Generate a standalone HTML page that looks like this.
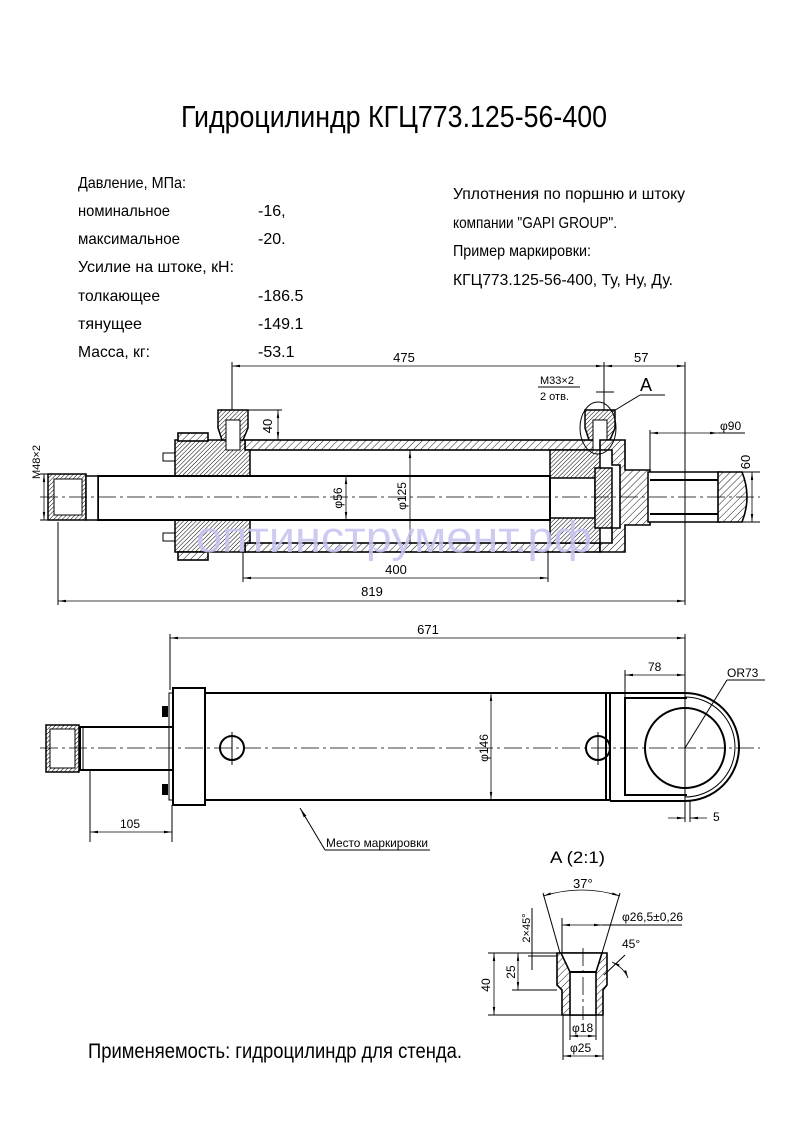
<!DOCTYPE html>
<html><head><meta charset="utf-8"><style>
html,body{margin:0;padding:0;background:#fff}
svg{display:block}
text{font-family:"Liberation Sans Narrow","Liberation Sans","DejaVu Sans",sans-serif;fill:#000}
.l{stroke:#000;fill:none;stroke-width:1}
.t{stroke:#000;fill:none;stroke-width:2}
.c{stroke:#000;fill:none;stroke-width:0.8;stroke-dasharray:18 4 3 4}
.h{fill:url(#hatch);stroke:#000;stroke-width:1.6}
.d{stroke:#000;stroke-width:0.8;fill:none;marker-start:url(#a1);marker-end:url(#a2)}
</style></head><body>
<svg width="793" height="1123" viewBox="0 0 793 1123" xmlns="http://www.w3.org/2000/svg">
<defs>
<pattern id="hatch" width="5" height="5" patternUnits="userSpaceOnUse" patternTransform="rotate(45)"><rect width="5" height="5" fill="#fff"/><line x1="0" y1="0" x2="0" y2="5" stroke="#000" stroke-width="0.9"/></pattern>
<pattern id="hatch2" width="3" height="3" patternUnits="userSpaceOnUse" patternTransform="rotate(45)"><rect width="3" height="3" fill="#fff"/><line x1="0" y1="0" x2="0" y2="3" stroke="#000" stroke-width="1"/></pattern>
<marker id="a1" markerWidth="10" markerHeight="6" refX="0" refY="3" orient="auto"><path d="M0,3 L10,1.5 L10,4.5z" fill="#000"/></marker>
<marker id="a2" markerWidth="10" markerHeight="6" refX="10" refY="3" orient="auto"><path d="M10,3 L0,1.5 L0,4.5z" fill="#000"/></marker>
</defs>

<!-- Title -->
<text x="181" y="127" font-size="31" textLength="426" lengthAdjust="spacingAndGlyphs">Гидроцилиндр КГЦ773.125-56-400</text>

<g font-size="16">
<text x="78" y="188" textLength="108" lengthAdjust="spacingAndGlyphs">Давление, МПа:</text>
<text x="78" y="216" textLength="92" lengthAdjust="spacingAndGlyphs">номинальное</text>
<text x="78" y="244" textLength="102" lengthAdjust="spacingAndGlyphs">максимальное</text>
<text x="78" y="272" textLength="156" lengthAdjust="spacingAndGlyphs">Усилие на штоке, кН:</text>
<text x="78" y="301" textLength="82" lengthAdjust="spacingAndGlyphs">толкающее</text>
<text x="78" y="329" textLength="64" lengthAdjust="spacingAndGlyphs">тянущее</text>
<text x="78" y="357" textLength="72" lengthAdjust="spacingAndGlyphs">Масса, кг:</text>
<text x="258" y="216">-16,</text>
<text x="258" y="244">-20.</text>
<text x="258" y="301">-186.5</text>
<text x="258" y="329">-149.1</text>
<text x="258" y="357">-53.1</text>
<text x="453" y="199" textLength="232" lengthAdjust="spacingAndGlyphs">Уплотнения по поршню и штоку</text>
<text x="453" y="228" textLength="164" lengthAdjust="spacingAndGlyphs">компании "GAPI GROUP".</text>
<text x="453" y="256" textLength="138" lengthAdjust="spacingAndGlyphs">Пример маркировки:</text>
<text x="453" y="285" textLength="220" lengthAdjust="spacingAndGlyphs">КГЦ773.125-56-400, Ту, Ну, Ду.</text>
</g>

<!-- ===== Section view ===== -->
<g>
<!-- tube walls -->
<rect x="245" y="440" width="355" height="10" class="h"/>
<rect x="245" y="543" width="355" height="9" class="h"/>
<!-- gland -->
<path d="M175,440 L245,440 L245,450 L250,450 L250,480 L175,480 Z" fill="url(#hatch2)" stroke="#000" stroke-width="1.5"/>
<path d="M175,520 L250,520 L250,543 L245,543 L245,552 L175,552 Z" fill="url(#hatch2)" stroke="#000" stroke-width="1.5"/>
<rect x="178" y="433" width="30" height="8" class="h"/>
<rect x="178" y="552" width="30" height="8" class="h"/>
<rect x="163" y="453" width="12" height="8" class="l"/>
<rect x="163" y="533" width="12" height="8" class="l"/>
<!-- ports -->
<path d="M218,410 L248,410 L248,428 L243,440 L222,440 L218,428 Z" fill="url(#hatch2)" stroke="#000" stroke-width="1.5"/>
<rect x="226" y="420" width="14" height="30" fill="#fff" stroke="#000"/>
<path d="M585,410 L615,410 L615,428 L610,440 L589,440 L585,428 Z" fill="url(#hatch2)" stroke="#000" stroke-width="1.5"/>
<rect x="593" y="420" width="14" height="30" fill="#fff" stroke="#000"/>
<!-- piston -->
<rect x="550" y="450" width="50" height="93" fill="url(#hatch2)" stroke="#000" stroke-width="1.5"/>
<rect x="550" y="478" width="45" height="40" fill="#fff" stroke="#000" stroke-width="1.5"/>
<rect x="595" y="468" width="17" height="60" fill="url(#hatch2)" stroke="#000" stroke-width="1.5"/>
<!-- rear cap -->
<path d="M600,440 L625,440 L625,470 L650,470 L650,525 L625,525 L625,552 L600,552 L600,543 L612,543 L612,528 L620,528 L620,465 L612,465 L612,450 L600,450 Z" class="h"/>
<rect x="648" y="472" width="72" height="50" fill="#fff" stroke="#000" stroke-width="1.5"/>
<line x1="650" y1="480" x2="718" y2="480" class="t"/>
<line x1="650" y1="514" x2="718" y2="514" class="t"/>
<path d="M718,472 L742,472 Q752,497 742,522 L718,522 Z" class="h"/>
<!-- rod -->
<rect x="98" y="476" width="452" height="44" fill="#fff" stroke="#000" stroke-width="2"/>
<rect x="48" y="474" width="38" height="46" fill="url(#hatch2)" stroke="#000" stroke-width="1.5"/>
<rect x="54" y="479" width="28" height="36" fill="#fff" stroke="#000"/>
<rect x="86" y="476" width="12" height="44" fill="#fff" stroke="#000" stroke-width="1.5"/>
<line x1="40" y1="497" x2="760" y2="497" class="c"/>
<!-- dims -->
<line x1="232" y1="362" x2="232" y2="410" class="l"/>
<line x1="604" y1="362" x2="604" y2="410" class="l"/>
<line x1="685" y1="362" x2="685" y2="605" class="l"/>
<line x1="232" y1="366" x2="604" y2="366" class="d"/>
<line x1="604" y1="366" x2="685" y2="366" class="d"/>
<text x="404" y="362" font-size="13" text-anchor="middle">475</text>
<text x="634" y="362" font-size="13">57</text>
<line x1="248" y1="410" x2="282" y2="410" class="l"/>
<line x1="278" y1="410" x2="278" y2="440" class="d"/>
<text x="272" y="426" font-size="13" transform="rotate(-90 272 426)" text-anchor="middle">40</text>
<line x1="596" y1="392" x2="614" y2="392" class="l"/>
<line x1="538" y1="387" x2="580" y2="387" class="l"/>
<text x="540" y="384" font-size="11">M33×2</text>
<text x="540" y="400" font-size="11">2 отв.</text>
<ellipse cx="598" cy="428" rx="18" ry="26" class="l"/>
<line x1="612" y1="412" x2="640" y2="395" class="l"/><line x1="640" y1="395" x2="665" y2="395" class="l"/>
<text x="640" y="391" font-size="18">A</text>
<line x1="650" y1="430" x2="650" y2="470" class="l"/>
<line x1="650" y1="433" x2="718" y2="433" class="d"/>
<line x1="718" y1="433" x2="745" y2="433" class="l"/>
<text x="720" y="430" font-size="12">φ90</text>
<line x1="720" y1="472" x2="760" y2="472" class="l"/>
<line x1="720" y1="522" x2="760" y2="522" class="l"/>
<line x1="752" y1="472" x2="752" y2="522" class="d"/>
<text x="750" y="462" font-size="13" transform="rotate(-90 750 462)" text-anchor="middle">60</text>
<line x1="40" y1="474" x2="48" y2="474" class="l"/><line x1="40" y1="520" x2="48" y2="520" class="l"/>
<line x1="44" y1="474" x2="44" y2="520" class="d"/>
<text x="40" y="462" font-size="11" transform="rotate(-90 40 462)" text-anchor="middle">M48×2</text>
<line x1="346" y1="476" x2="346" y2="520" class="d"/>
<text x="342" y="498" font-size="12" transform="rotate(-90 342 498)" text-anchor="middle">φ56</text>
<line x1="410" y1="450" x2="410" y2="543" class="d"/>
<text x="406" y="496" font-size="12" transform="rotate(-90 406 496)" text-anchor="middle">φ125</text>
<line x1="243" y1="552" x2="243" y2="582" class="l"/>
<line x1="548" y1="550" x2="548" y2="582" class="l"/>
<line x1="243" y1="578" x2="548" y2="578" class="d"/>
<text x="396" y="574" font-size="13" text-anchor="middle">400</text>
<line x1="58" y1="522" x2="58" y2="605" class="l"/>
<line x1="58" y1="601" x2="685" y2="601" class="d"/>
<text x="372" y="596" font-size="13" text-anchor="middle">819</text>
<text x="196" y="552" font-size="44" fill="#c9c6f2" style="fill:#c6c3f0;opacity:0.85" textLength="396" lengthAdjust="spacingAndGlyphs">оптинструмент.рф</text>
</g>

<!-- ===== Side view ===== -->
<g>
<line x1="170" y1="634" x2="170" y2="690" class="l"/>
<line x1="685" y1="634" x2="685" y2="822" class="l"/>
<line x1="170" y1="638" x2="685" y2="638" class="d"/>
<text x="428" y="634" font-size="13" text-anchor="middle">671</text>
<rect x="205" y="693" width="405" height="107" class="t"/>
<line x1="606" y1="693" x2="606" y2="800" class="t"/>
<rect x="173" y="688" width="32" height="117" fill="#fff" class="t"/>
<rect x="169" y="693" width="4" height="107" class="l"/>
<rect x="162" y="706" width="6" height="11" fill="#000"/>
<rect x="162" y="784" width="6" height="11" fill="#000"/>
<path d="M610,693 L685,693 A54,54 0 0 1 685,801 L610,801" class="t"/>
<path d="M685,697 A50,50 0 0 1 685,797" class="l"/>
<path d="M687,698 L625,698 L625,795 L687,795" class="t"/>
<circle cx="685" cy="748" r="40" class="t"/>
<circle cx="232" cy="748" r="12" class="t"/>
<circle cx="598" cy="748" r="12" class="t"/>
<rect x="80" y="727" width="93" height="43" class="t"/>
<line x1="83" y1="727" x2="83" y2="770" class="l"/>
<rect x="46" y="725" width="33" height="47" fill="url(#hatch2)" stroke="#000" stroke-width="1.5"/>
<rect x="50" y="729" width="25" height="39" fill="#fff" stroke="#000"/>
<line x1="40" y1="748" x2="760" y2="748" class="c"/>
<line x1="232" y1="732" x2="232" y2="765" class="l"/>
<line x1="598" y1="732" x2="598" y2="765" class="l"/>
<line x1="685" y1="660" x2="685" y2="822" class="c"/>
<line x1="690" y1="800" x2="690" y2="822" class="l"/>
<line x1="491" y1="693" x2="491" y2="800" class="d"/>
<text x="488" y="748" font-size="12" transform="rotate(-90 488 748)" text-anchor="middle">φ146</text>
<line x1="625" y1="670" x2="625" y2="698" class="l"/>
<line x1="625" y1="675" x2="685" y2="675" class="d"/>
<text x="648" y="671" font-size="12">78</text>
<line x1="685" y1="748" x2="727" y2="680" class="l"/><line x1="727" y1="680" x2="765" y2="680" class="l"/>
<text x="727" y="677" font-size="12">OR73</text>
<line x1="668" y1="818" x2="685" y2="818" class="d" style="marker-start:none"/>
<line x1="707" y1="818" x2="690" y2="818" class="d" style="marker-start:none"/>
<text x="713" y="821" font-size="12">5</text>
<line x1="90" y1="770" x2="90" y2="842" class="l"/>
<line x1="172" y1="805" x2="172" y2="842" class="l"/>
<line x1="90" y1="832" x2="172" y2="832" class="d"/>
<text x="120" y="828" font-size="12">105</text>
<line x1="325" y1="850" x2="300" y2="808" class="l" style="marker-end:url(#a2)"/>
<line x1="325" y1="850" x2="430" y2="850" class="l"/>
<text x="326" y="847" font-size="12" textLength="102" lengthAdjust="spacingAndGlyphs">Место маркировки</text>
</g>

<!-- ===== Detail A ===== -->
<g>
<text x="550" y="863" font-size="17" textLength="55" lengthAdjust="spacingAndGlyphs">A (2:1)</text>
<path d="M557,953 L607,953 L607,985 L603,990 L603,1015 L562,1015 L562,990 L557,985 Z" class="h"/>
<path d="M561,953 L602,953 L596,972 L596,1015 L570,1015 L570,972 Z" fill="#fff" stroke="#000" stroke-width="1.6"/>
<line x1="570" y1="972" x2="596" y2="972" class="t"/>
<line x1="583" y1="948" x2="583" y2="1020" class="c"/>
<line x1="560" y1="953" x2="543" y2="893" class="l"/>
<line x1="602" y1="953" x2="620" y2="893" class="l"/>
<path d="M543,896 Q582,884 620,896" class="d"/>
<text x="573" y="888" font-size="13">37°</text>
<line x1="562" y1="918" x2="562" y2="953" class="l"/>
<line x1="562" y1="925" x2="602" y2="925" class="d"/>
<line x1="602" y1="925" x2="682" y2="925" class="l"/>
<text x="622" y="921" font-size="12">φ26,5±0,26</text>
<line x1="528" y1="956" x2="557" y2="956" class="l"/>
<line x1="532" y1="908" x2="532" y2="970" class="l"/>
<text x="530" y="928" font-size="11" transform="rotate(-90 530 928)" text-anchor="middle">2×45°</text>
<line x1="512" y1="990" x2="557" y2="990" class="l"/>
<line x1="518" y1="953" x2="518" y2="990" class="d"/>
<text x="515" y="972" font-size="12" transform="rotate(-90 515 972)" text-anchor="middle">25</text>
<line x1="488" y1="953" x2="557" y2="953" class="l"/>
<line x1="488" y1="1015" x2="562" y2="1015" class="l"/>
<line x1="494" y1="953" x2="494" y2="1015" class="d"/>
<text x="490" y="985" font-size="12" transform="rotate(-90 490 985)" text-anchor="middle">40</text>
<line x1="604" y1="975" x2="625" y2="955" class="l"/>
<path d="M612,962 Q624,968 628,978" class="d"/>
<text x="622" y="948" font-size="12">45°</text>
<line x1="570" y1="1015" x2="570" y2="1040" class="l"/>
<line x1="596" y1="1015" x2="596" y2="1040" class="l"/>
<line x1="570" y1="1036" x2="596" y2="1036" class="d"/>
<text x="572" y="1032" font-size="12">φ18</text>
<line x1="563" y1="1015" x2="563" y2="1060" class="l"/>
<line x1="603" y1="1015" x2="603" y2="1060" class="l"/>
<line x1="563" y1="1056" x2="603" y2="1056" class="d"/>
<text x="570" y="1052" font-size="12">φ25</text>
</g>

<text x="88" y="1058" font-size="21" textLength="374" lengthAdjust="spacingAndGlyphs">Применяемость: гидроцилиндр для стенда.</text>
</svg>
</body></html>
